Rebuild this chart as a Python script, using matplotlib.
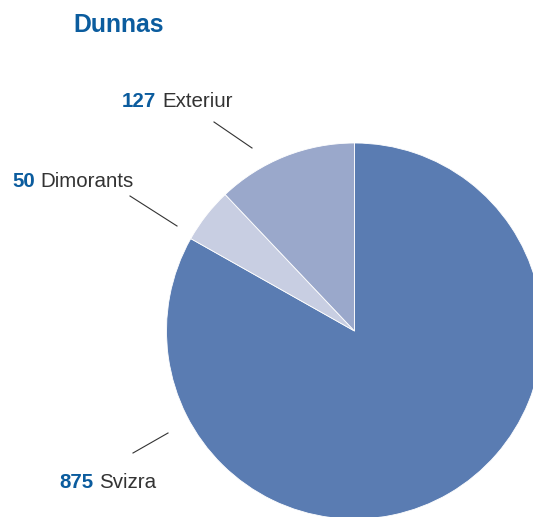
import matplotlib
matplotlib.use("Agg")
import matplotlib.pyplot as plt

# data
categories = ["Svizra", "Dimorants", "Exteriur"]
values = [875, 50, 127]
colors = ["#5a7cb2", "#c8cee2", "#9aa8cb"]
title = "Dunnas"

W, H = 533, 517
blue = "#0b5c9e"
grey = "#333333"
plt.rcParams["font.family"] = ["Liberation Sans", "DejaVu Sans"]

fig = plt.figure(figsize=(W / 100, H / 100), dpi=100)
ax = fig.add_axes([0, 0, 1, 1])

# pie, clockwise from the top, partly cut off by the figure border
ax.pie(values, colors=colors, startangle=90, counterclock=False,
       center=(354.5, H - 331), radius=188,
       wedgeprops=dict(edgecolor="white", linewidth=0.6))
ax.set_xlim(0, W)
ax.set_ylim(0, H)
ax.set_aspect("auto")
ax.axis("off")

fig.text(73 / W, 1 - 32 / H, title, color=blue, fontsize=17.8,
         fontweight="bold", ha="left", va="baseline")

# label anchors (left, baseline) and leader lines, in pixels from top-left
label_pos = {"Svizra": (59, 488), "Dimorants": (12, 187), "Exteriur": (122, 107)}
leaders = {"Svizra": ((133, 453), (168, 433)),
           "Dimorants": ((130, 196), (177, 226)),
           "Exteriur": ((214, 122), (252, 148))}

fig.canvas.draw()
renderer = fig.canvas.get_renderer()
for name, val in zip(categories, values):
    x, y = label_pos[name]
    t = ax.text(x, H - y, str(val), color=blue, fontsize=14.8,
                fontweight="bold", ha="left", va="baseline")
    bb = t.get_window_extent(renderer=renderer)
    ax.text(bb.x1 + 6, H - y, name, color=grey, fontsize=14.8,
            ha="left", va="baseline")
    (x0, y0), (x1, y1) = leaders[name]
    ax.plot([x0, x1], [H - y0, H - y1], color="#333333", lw=0.8)

fig.savefig("out.png", dpi=100)
